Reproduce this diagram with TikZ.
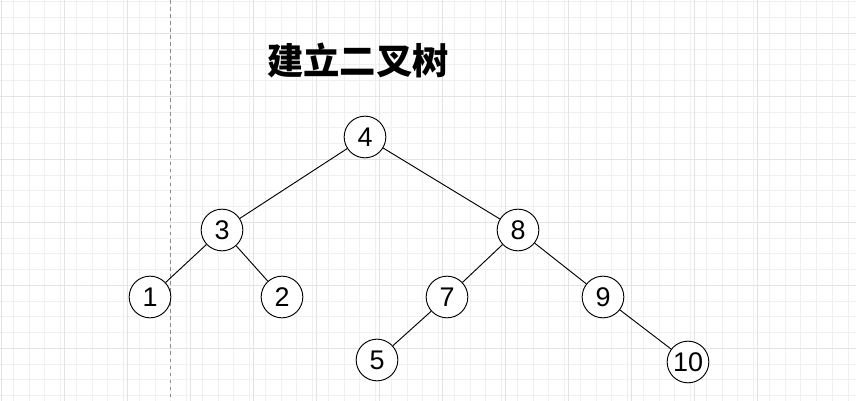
\documentclass[tikz,border=0pt]{standalone}
\usepackage{fontspec}
\setmainfont{Liberation Sans}
\newfontfamily\cjk{Noto Sans CJK SC}
\begin{document}
\begin{tikzpicture}[x=0.03cm,y=-0.03cm,line width=0.8pt,
	treenode/.style={circle,draw,minimum size=1.25cm,inner sep=0pt,font=\fontsize{23}{23}\selectfont}]
	\useasboundingbox (0,0) rectangle (856,401);
	
	% Hintergrundraster
	\foreach \i in {0,...,55} {
		\draw[black!6,line width=0.4pt] ({-2.75+15.75*\i},0) -- ({-2.75+15.75*\i},401);
	}
	\foreach \i in {0,...,26} {
		\draw[black!6,line width=0.4pt] (0,{1.5+15.75*\i}) -- (856,{1.5+15.75*\i});
	}
	\foreach \i in {0,...,13} {
		\draw[black!11,line width=0.5pt] ({-62+63*\i},0) -- ({-62+63*\i},401);
	}
	\foreach \i in {0,...,6} {
		\draw[black!11,line width=0.5pt] (0,{33+63*\i}) -- (856,{33+63*\i});
	}
	\draw[black!45,dashed,line width=0.5pt] (170,0) -- (170,401);
	
	\node (title) at (358,60) {\cjk\bfseries\fontsize{31}{31}\selectfont 建立二叉树};
	
	% Knoten
	\node[treenode,fill=white] (n4) at (365,137) {4};
	\node[treenode,fill=white] (n3) at (222,230) {3};
	\node[treenode,fill=white] (n8) at (518,230) {8};
	\node[treenode,fill=white] (n1) at (150,297) {1};
	\node[treenode,fill=white] (n2) at (282,297) {2};
	\node[treenode,fill=white] (n7) at (447,297) {7};
	\node[treenode,fill=white] (n9) at (603,297) {9};
	\node[treenode,fill=white] (n5) at (377,360) {5};
	\node[treenode,fill=white] (n10) at (688,362) {10};
	
	\draw (n4) -- (n3);
	\draw (n4) -- (n8);
	\draw (n3) -- (n1);
	\draw (n3) -- (n2);
	\draw (n8) -- (n7);
	\draw (n8) -- (n9);
	\draw (n7) -- (n5);
	\draw (n9) -- (n10);
\end{tikzpicture}
\end{document}
